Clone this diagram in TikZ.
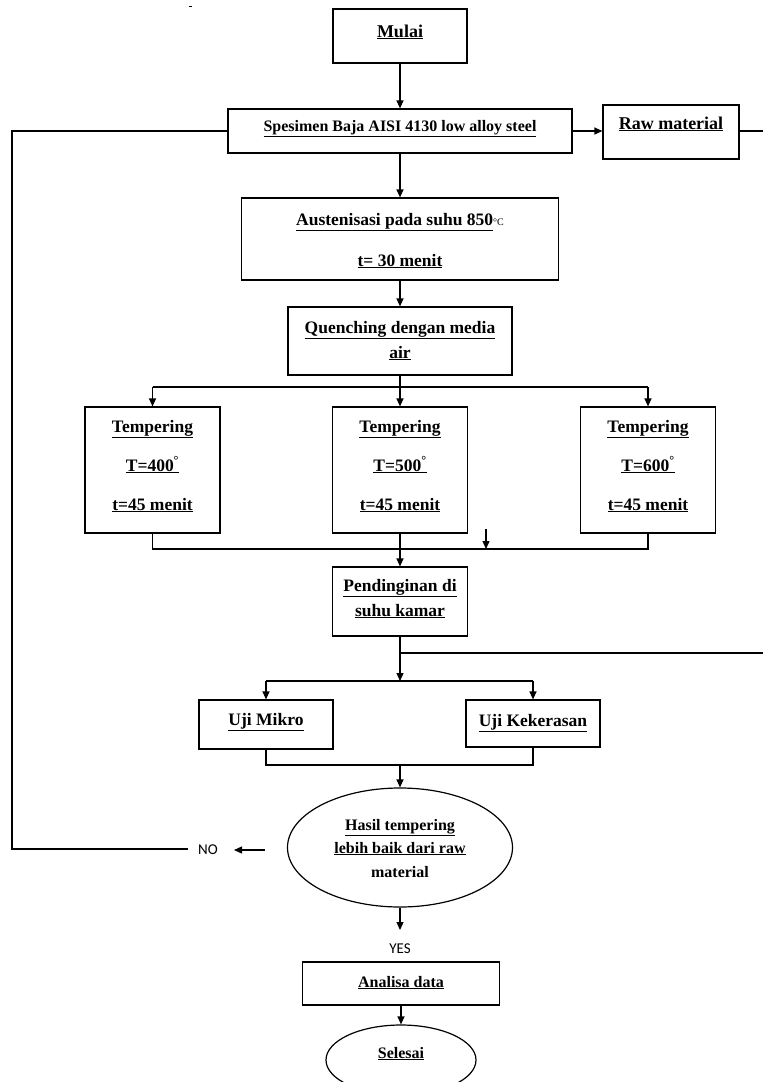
\documentclass[tikz,border=0pt]{standalone}
\usepackage{fontspec}
\setmainfont{Liberation Serif}
\newfontfamily\labelfont{Carlito}
\usetikzlibrary{arrows.meta,shapes.geometric}
\newcommand\ulx[1]{\underline{#1}}
\begin{document}
\begin{tikzpicture}[x=1pt,y=-1pt,
  box/.style={draw, line width=1.2pt, rectangle, inner sep=0pt},
  oval/.style={draw, line width=1.2pt, ellipse, inner sep=0pt},
  txt/.style={anchor=base, inner sep=0pt, font=\bfseries\fontsize{17.5}{20}\selectfont},
  txts/.style={txt, font=\bfseries\fontsize{16}{19}\selectfont},
  txtl/.style={txt, font=\bfseries\fontsize{18}{21}\selectfont},
  lbl/.style={anchor=base, inner sep=0pt, font=\labelfont\fontsize{15}{17}\selectfont},
  conn/.style={line width=1.2pt},
  arr/.style={line width=1.2pt, -{Triangle[length=8pt,width=7pt]}},
]
\useasboundingbox (0,0) rectangle (763,1082);

% stray mark at top
\draw[line width=1pt] (188.5,6) -- (191.5,6);

% boxes
\node[box, minimum width=134pt, minimum height=54pt] (mulai) at (400,36) {};
\node[box, minimum width=344pt, minimum height=44pt] (spes) at (400,131) {};
\node[box, minimum width=136pt, minimum height=54pt] (raw) at (671,132) {};
\node[box, minimum width=317pt, minimum height=82pt] (aust) at (400,239) {};
\node[box, minimum width=224pt, minimum height=68pt] (quen) at (400,341) {};
\node[box, minimum width=135pt, minimum height=126pt] (temp1) at (152.5,470) {};
\node[box, minimum width=135pt, minimum height=126pt] (temp2) at (400,470) {};
\node[box, minimum width=135pt, minimum height=126pt] (temp3) at (648,470) {};
\node[box, minimum width=135pt, minimum height=69pt] (pend) at (400,601.5) {};
\node[box, minimum width=134pt, minimum height=49pt] (mikro) at (266,724.5) {};
\node[box, minimum width=134pt, minimum height=47pt] (keker) at (533,723.5) {};
\node[oval, minimum width=225pt, minimum height=119pt] (hasil) at (400,847.5) {};
\node[box, minimum width=197pt, minimum height=43pt] (analisa) at (401,983.5) {};
\node[oval, minimum width=150pt, minimum height=70pt] (selesai) at (401,1060) {};

% texts
\node[txtl] (tmulai) at (400,37) {\ulx{Mulai}};
\node[txts] (tspes) at (400,131) {\ulx{Spesimen Baja AISI 4130 low alloy steel}};
\node[txtl] (traw) at (671,129) {\ulx{Raw material}};
\node[txt] (taust1) at (400,225) {\ulx{Austenisasi pada suhu 850}{\mdseries\fontsize{10}{12}\selectfont °C}};
\node[txt] (taust2) at (400,266) {\ulx{t= 30 menit}};
\node[txt] (tquen1) at (400,333) {\ulx{Quenching dengan media}};
\node[txt] (tquen2) at (400,358) {\ulx{air}};
\node[txt] (tt1a) at (152.5,432) {\ulx{Tempering}};
\node[txt] (tt1b) at (152.5,471) {\ulx{T=400\textsuperscript{°}}};
\node[txt] (tt1c) at (152.5,510) {\ulx{t=45 menit}};
\node[txt] (tt2a) at (400,432) {\ulx{Tempering}};
\node[txt] (tt2b) at (400,471) {\ulx{T=500\textsuperscript{°}}};
\node[txt] (tt2c) at (400,510) {\ulx{t=45 menit}};
\node[txt] (tt3a) at (648,432) {\ulx{Tempering}};
\node[txt] (tt3b) at (648,471) {\ulx{T=600\textsuperscript{°}}};
\node[txt] (tt3c) at (648,510) {\ulx{t=45 menit}};
\node[txt] (tpend1) at (400,591) {\ulx{Pendinginan di}};
\node[txt] (tpend2) at (400,616) {\ulx{suhu kamar}};
\node[txt] (tmikro) at (266,725) {\ulx{Uji Mikro}};
\node[txt] (tkeker) at (533,726) {\ulx{Uji Kekerasan}};
\node[txts] (thasil1) at (400,830) {\ulx{Hasil tempering}};
\node[txts] (thasil2) at (400,853) {\ulx{lebih baik dari raw}};
\node[txts] (thasil3) at (400,877) {material};
\node[txts] (tanalisa) at (401,987) {\ulx{Analisa data}};
\node[txts] (tselesai) at (401,1058) {\ulx{Selesai}};
\node[lbl] (no) at (208,854) {NO};
\node[lbl] (yes) at (400,953) {YES};

% coordinates
\coordinate (rawend) at (763,131);
\coordinate (lt) at (12,131);
\coordinate (lb) at (12,849);
\coordinate (noend) at (188,849);
\coordinate (nofrom) at (265,850);
\coordinate (noto) at (234,850);
\coordinate (s1) at (400,387);
\coordinate (j1) at (400,549);
\coordinate (sa1) at (486,529);
\coordinate (sa2) at (486,549);
\coordinate (j2) at (400,653);
\coordinate (rightend) at (763,653);
\coordinate (j3) at (400,681);
\coordinate (j4) at (400,765);
\coordinate (yesto) at (400,930);

% connectors
\draw[arr] (mulai) -- (spes);
\draw[arr] (spes.east) -- (spes.east -| raw.west);
\draw[conn] (raw.east |- rawend) -- (rawend);
\draw[conn] (spes.west) -- (lt) -- (lb) -- (noend);
\draw[arr] (nofrom) -- (noto);
\draw[arr] (spes) -- (aust);
\draw[arr] (aust) -- (quen);
\draw[conn] (quen.south) -- (s1);
\draw[conn] (temp1.north |- s1) -- (temp3.north |- s1);
\draw[arr] (temp1.north |- s1) -- (temp1.north);
\draw[arr] (s1) -- (temp2.north);
\draw[arr] (temp3.north |- s1) -- (temp3.north);
\draw[conn] (temp1.south) -- (temp1.south |- j1) -- (temp3.south |- j1) -- (temp3.south);
\draw[arr] (temp2) -- (pend);
\draw[arr] (sa1) -- (sa2);
\draw[conn] (pend.south) -- (j2) -- (rightend);
\draw[arr] (j2) -- (j3);
\draw[conn] (mikro.north |- j3) -- (keker.north |- j3);
\draw[arr] (mikro.north |- j3) -- (mikro.north);
\draw[arr] (keker.north |- j3) -- (keker.north);
\draw[conn] (mikro.south) -- (mikro.south |- j4) -- (keker.south |- j4) -- (keker.south);
\draw[arr] (j4) -- (hasil);
\draw[arr] (hasil) -- (yesto);
\draw[arr] (analisa) -- (selesai);
\end{tikzpicture}
\end{document}
